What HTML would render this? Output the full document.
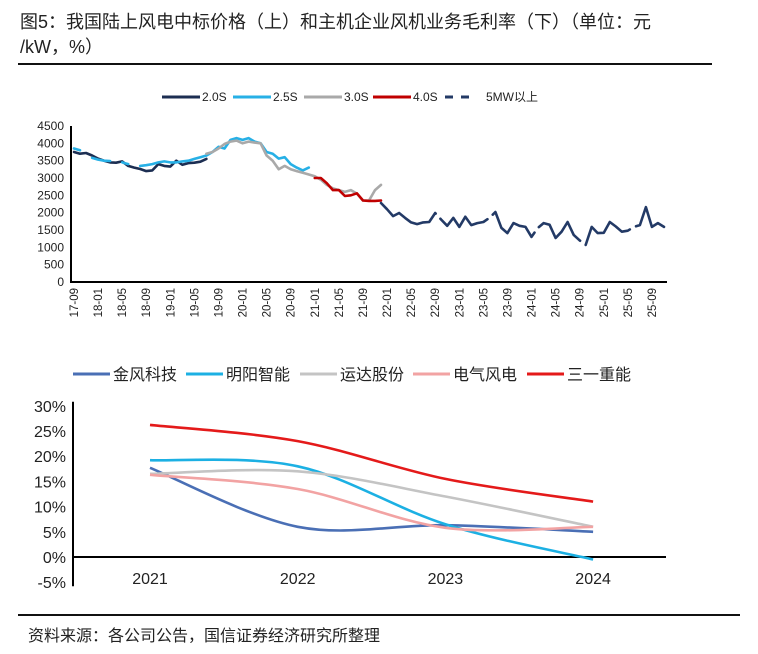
<!DOCTYPE html>
<html><head><meta charset="utf-8">
<style>
body{margin:0;background:#fff;font-family:"Liberation Sans","Noto Sans CJK SC",sans-serif;}
#wrap{position:relative;width:758px;height:654px;overflow:hidden;background:#fff}
.t{position:absolute;color:#222}
</style></head><body>
<div id="wrap">
<div class="t" style="left:20px;top:10px;font-size:18px;line-height:25px;white-space:nowrap">图5：我国陆上风电中标价格（上）和主机企业风机业务毛利率（下）（单位：元<br>/kW，%）</div>
<div style="position:absolute;left:18px;top:63px;width:694px;height:2px;background:#111"></div>
<svg id="topc" width="758" height="340" style="position:absolute;left:0;top:0"></svg>
<svg id="botc" width="758" height="260" style="position:absolute;left:0;top:355px"></svg>
<div style="position:absolute;left:18px;top:614px;width:722px;height:2px;background:#111"></div>
<div class="t" style="left:28px;top:622px;font-size:16px">资料来源：各公司公告，国信证券经济研究所整理</div>
</div>
<script>
// ---- top chart data (monthly, index 0 = 2017-09) ----
const xLabels=["17-09","18-01","18-05","18-09","19-01","19-05","19-09","20-01","20-05","20-09","21-01","21-05","21-09","22-01","22-05","22-09","23-01","23-05","23-09","24-01","24-05","24-09","25-01","25-05","25-09"];
const yTicks=[0,500,1000,1500,2000,2500,3000,3500,4000,4500];
const s20Start=0;
const s20=[3750,3700,3720,3650,3560,3500,3450,3440,3480,3350,3300,3260,3200,3220,3400,3350,3330,3500,3380,3430,3440,3470,3550];
const s25Start=0;
const s25=[3850,3800,null,3580,3530,3500,3490,null,3450,3400,null,3350,3370,3400,3450,3480,3450,3450,3480,3500,3550,3600,3650,3750,3900,3850,4100,4150,4100,4150,4050,4000,3750,3700,3560,3600,3400,3300,3220,3300];
const s30Start=22;
const s30=[3700,3750,3850,3980,4050,4080,4000,4050,4020,4000,3650,3500,3250,3350,3250,3200,3150,3100,3050,2950,2800,2700,2650,2600,2650,2550,2350,2350,2650,2800];
const s40Start=40;
const s40=[3000,3000,2850,2650,2650,2480,2500,2560,2350,2340,2340,2350];
const s5Start=51;
const s5=[2280,2100,1900,1990,1850,1720,1670,1720,1730,1990,1800,1620,1850,1590,1880,1640,1700,1730,1850,2020,1560,1410,1700,1620,1590,1300,1550,1700,1650,1270,1450,1730,1360,1200,1070,1590,1410,1420,1730,1600,1450,1480,1590,1640,2160,1590,1700,1590];
// ---- bottom chart data ----
const years=["2021","2022","2023","2024"];
const pctTicks=[-5,0,5,10,15,20,25,30];
const goldwind=[17.7,6.0,6.3,5.0];
const mingyang=[19.2,18.0,6.5,-0.5];
const windey=[16.5,17.0,12.0,6.0];
const shanghaiElec=[16.3,13.5,5.8,6.0];
const sany=[26.2,23.0,15.5,11.0];

const NS="http://www.w3.org/2000/svg";
function mk(p,tag,at){const e=document.createElementNS(NS,tag);for(const k in at)e.setAttribute(k,at[k]);p.appendChild(e);return e;}
const topSvg=document.getElementById('topc');
const tx=m=>74+m*6.02, ty=v=>282-v*156/4500;
let ya=mk(topSvg,'line',{x1:71,y1:126,x2:71,y2:283,stroke:'#000','stroke-width':2});


let xa=mk(topSvg,'line',{x1:70,y1:282,x2:667,y2:282,stroke:'#000','stroke-width':2});


yTicks.forEach(v=>{const t=mk(topSvg,'text',{x:64,y:ty(v)+4,'text-anchor':'end','font-size':12,fill:'#222'});t.textContent=v;

});
xLabels.forEach((l,i)=>{const x=tx(i*4);const t=mk(topSvg,'text',{x:0,y:0,transform:`translate(${x+4},288) rotate(-90)`,'text-anchor':'end','font-size':11.5,fill:'#222'});t.textContent=l;

});
function series(arr,start,color,name,dash){
  let d='',pen=false;
  arr.forEach((v,i)=>{if(v==null){pen=false;return;}d+=(pen?'L':'M')+tx(start+i).toFixed(1)+','+ty(v).toFixed(1);pen=true;});
  const p=mk(topSvg,'path',{d:d,fill:'none',stroke:color,'stroke-width':2.6,'stroke-linejoin':'round','stroke-linecap':'round'});
  if(dash)p.setAttribute('stroke-dasharray',dash);
  
  
}
series(s20,s20Start,'#1c2e52','series-2.0s');
series(s25,s25Start,'#27b0e6','series-2.5s');
series(s30,s30Start,'#a9a9a9','series-3.0s');
series(s40,s40Start,'#c00000','series-4.0s');
series(s5,s5Start,'#233a66','series-5mw','70,7');
const leg=[['2.0S','#1c2e52',162],['2.5S','#27b0e6',233],['3.0S','#a9a9a9',304],['4.0S','#c00000',373]];
leg.forEach(([n,c,x])=>{const l=mk(topSvg,'line',{x1:x,y1:97,x2:x+38,y2:97,stroke:c,'stroke-width':3});


const t=mk(topSvg,'text',{x:x+40,y:101,'font-size':12,fill:'#222'});t.textContent=n;

});
const dl=mk(topSvg,'line',{x1:445,y1:97,x2:475,y2:97,stroke:'#233a66','stroke-width':3,'stroke-dasharray':'8,8'});


const dt=mk(topSvg,'text',{x:486,y:101,'font-size':12,fill:'#222'});dt.textContent='5MW以上';



// ---- bottom ----
const botSvg=document.getElementById('botc');
const bx=i=>150+i*147.7, by=v=>(557-355)-v*25.2/5;
let ba=mk(botSvg,'line',{x1:73,y1:by(30)-4,x2:73,y2:by(-5)+4,stroke:'#000','stroke-width':2});


let bz=mk(botSvg,'line',{x1:73,y1:by(0),x2:666,y2:by(0),stroke:'#000','stroke-width':2});


pctTicks.forEach(v=>{const t=mk(botSvg,'text',{x:66,y:by(v)+6,'text-anchor':'end','font-size':16,fill:'#222'});t.textContent=v+'%';

});
years.forEach((y,i)=>{const t=mk(botSvg,'text',{x:bx(i),y:by(-5)+2,'text-anchor':'middle','font-size':16,fill:'#222'});t.textContent=y;

});
function smooth(vals){
  const pts=vals.map((v,i)=>[bx(i),by(v)]);let d='M'+pts[0].join(',');
  for(let i=0;i<pts.length-1;i++){const p0=pts[Math.max(0,i-1)],p1=pts[i],p2=pts[i+1],p3=pts[Math.min(pts.length-1,i+2)];
    const c1=[p1[0]+(p2[0]-p0[0])/6,p1[1]+(p2[1]-p0[1])/6],c2=[p2[0]-(p3[0]-p1[0])/6,p2[1]-(p3[1]-p1[1])/6];
    d+=`C${c1[0].toFixed(1)},${c1[1].toFixed(1)} ${c2[0].toFixed(1)},${c2[1].toFixed(1)} ${p2[0].toFixed(1)},${p2[1].toFixed(1)}`;}
  return d;}
const bs=[[goldwind,'#4a6fb5','line-goldwind','金风科技',73],[mingyang,'#1cb0e3','line-mingyang','明阳智能',186],[windey,'#c4c4c4','line-windey','运达股份',300],[shanghaiElec,'#f2a3a3','line-shanghai-electric','电气风电',413],[sany,'#e41a1a','line-sany','三一重能',527]];
bs.forEach(([v,c,n,l,x])=>{const p=mk(botSvg,'path',{d:smooth(v),fill:'none',stroke:c,'stroke-width':2.6});


const sw=mk(botSvg,'line',{x1:x,y1:19,x2:x+37,y2:19,stroke:c,'stroke-width':3});


const t=mk(botSvg,'text',{x:x+40,y:25,'font-size':16,fill:'#222'});t.textContent=l;

});
</script>
</body></html>
